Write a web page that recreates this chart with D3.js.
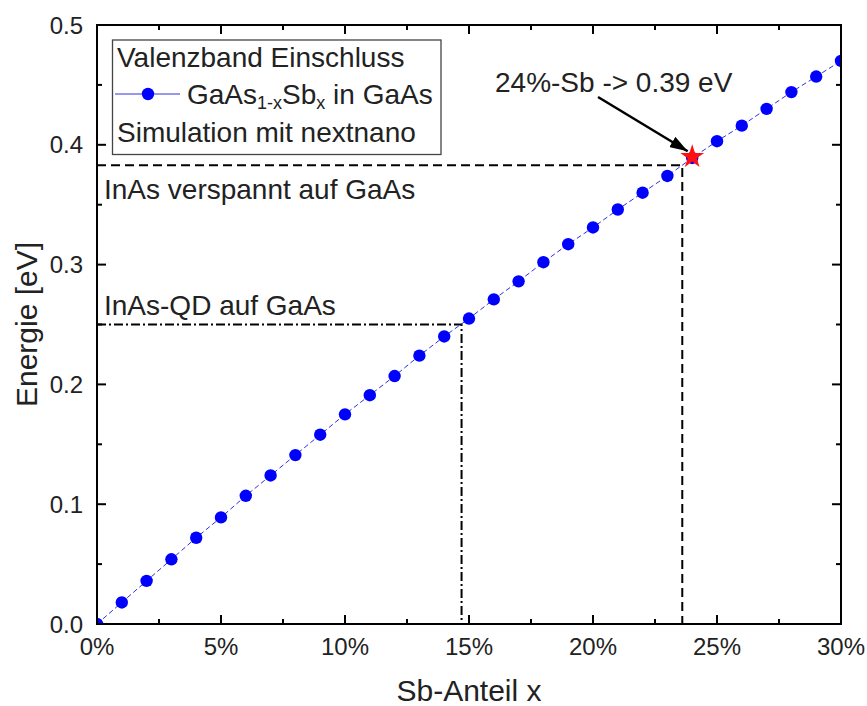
<!DOCTYPE html>
<html>
<head>
<meta charset="utf-8">
<script src="https://cdn.jsdelivr.net/npm/d3@7"></script>
<style>
  html, body { margin: 0; padding: 0; background: #fff; }
  svg { display: block; font-family: "Liberation Sans", Arial, sans-serif; }
</style>
</head>
<body>
<svg id="chart" width="867" height="706"></svg>
<script>
// Sb fraction (percent) and valence band confinement energy (eV)
const sbPercent = [0, 1, 2, 3, 4, 5, 6, 7, 8, 9, 10, 11, 12, 13, 14, 15,
                   16, 17, 18, 19, 20, 21, 22, 23, 24, 25, 26, 27, 28, 29, 30];
const energy = [0.000, 0.018, 0.036, 0.054, 0.072, 0.089, 0.107, 0.124, 0.141, 0.158,
                0.175, 0.191, 0.207, 0.224, 0.240, 0.255, 0.271, 0.286, 0.302, 0.317,
                0.331, 0.346, 0.360, 0.374, 0.389, 0.403, 0.416, 0.430, 0.444, 0.457, 0.470];

// Reference levels
const strainedInAs = { sb: 23.6, e: 0.383, label: "InAs verspannt auf GaAs" };
const quantumDot   = { sb: 14.7, e: 0.250, label: "InAs-QD auf GaAs" };
const highlight    = { sb: 24, e: 0.39, label: "24%-Sb -> 0.39 eV" };

// Axis ticks
const xTicks = [0, 5, 10, 15, 20, 25, 30];
const xMinor = [2.5, 7.5, 12.5, 17.5, 22.5, 27.5];
const yTicks = [0.0, 0.1, 0.2, 0.3, 0.4, 0.5];
const yMinor = [0.05, 0.15, 0.25, 0.35, 0.45];

const legendLines = ["Valenzband Einschluss", "GaAs", "Simulation mit nextnano"];

const svg = d3.select("#chart");
const pLeft = 97, pRight = 841, pTop = 25, pBottom = 624;

const x = d3.scaleLinear().domain([0, 30]).range([pLeft, pRight]);
const y = d3.scaleLinear().domain([0, 0.5]).range([pBottom, pTop]);

const major = 9, minor = 5;

const defs = svg.append("defs");
defs.append("clipPath").attr("id", "plotClip")
  .append("rect").attr("x", pLeft).attr("y", pTop)
  .attr("width", pRight - pLeft).attr("height", pBottom - pTop);

// Ticks on all four sides, pointing inward
const tickG = svg.append("g").attr("stroke", "#000").attr("stroke-width", 2);
function hTicks(vals, len) {
  vals.forEach(v => {
    tickG.append("line").attr("x1", x(v)).attr("x2", x(v)).attr("y1", pBottom).attr("y2", pBottom - len);
    tickG.append("line").attr("x1", x(v)).attr("x2", x(v)).attr("y1", pTop).attr("y2", pTop + len);
  });
}
function vTicks(vals, len) {
  vals.forEach(v => {
    tickG.append("line").attr("y1", y(v)).attr("y2", y(v)).attr("x1", pLeft).attr("x2", pLeft + len);
    tickG.append("line").attr("y1", y(v)).attr("y2", y(v)).attr("x1", pRight).attr("x2", pRight - len);
  });
}
hTicks(xTicks, major); hTicks(xMinor, minor);
vTicks(yTicks, major); vTicks(yMinor, minor);

// Tick labels
svg.append("g").selectAll("text").data(xTicks).join("text")
  .attr("x", d => x(d)).attr("y", 655)
  .attr("text-anchor", "middle").attr("font-size", 24).attr("fill", "#222")
  .text(d => d + "%");
svg.append("g").selectAll("text").data(yTicks).join("text")
  .attr("x", 83).attr("y", d => y(d) + 8.5)
  .attr("text-anchor", "end").attr("font-size", 24).attr("fill", "#222")
  .text(d => d3.format(".1f")(d));

// Axis titles
svg.append("text").attr("x", (pLeft + pRight) / 2).attr("y", 701)
  .attr("text-anchor", "middle").attr("font-size", 30).attr("fill", "#222")
  .text("Sb-Anteil x");
svg.append("text").attr("transform", `translate(37,${(pTop + pBottom) / 2}) rotate(-90)`)
  .attr("text-anchor", "middle").attr("font-size", 30).attr("fill", "#222")
  .text("Energie [eV]");

// Reference guide lines
svg.append("path")
  .attr("d", `M${x(0)},${y(strainedInAs.e)}H${x(strainedInAs.sb)}V${y(0)}`)
  .attr("fill", "none").attr("stroke", "#000").attr("stroke-width", 2)
  .attr("stroke-dasharray", "9,5");
svg.append("path")
  .attr("d", `M${x(0)},${y(quantumDot.e)}H${x(quantumDot.sb)}V${y(0)}`)
  .attr("fill", "none").attr("stroke", "#000").attr("stroke-width", 2)
  .attr("stroke-dasharray", "9,3,2,3");

svg.append("text").attr("x", 104).attr("y", 199).attr("font-size", 28)
  .attr("fill", "#222").text(strainedInAs.label);
svg.append("text").attr("x", 104).attr("y", 315).attr("font-size", 28)
  .attr("fill", "#222").text(quantumDot.label);

// Data series, clipped to the plot area
const dataG = svg.append("g").attr("clip-path", "url(#plotClip)");
const pts = sbPercent.map((s, i) => [s, energy[i]]);
dataG.append("path").datum(pts)
  .attr("d", d3.line().x(d => x(d[0])).y(d => y(d[1])))
  .attr("fill", "none").attr("stroke", "#3030e0").attr("stroke-width", 1)
  .attr("stroke-dasharray", "5,3");
dataG.append("g").selectAll("circle").data(pts).join("circle")
  .attr("cx", d => x(d[0])).attr("cy", d => y(d[1])).attr("r", 6.2)
  .attr("fill", "#0000ff");

// Highlighted point with star
dataG.append("path")
  .attr("d", d3.symbol().type(d3.symbolStar).size(175)())
  .attr("transform", `translate(${x(highlight.sb)},${y(highlight.e)})`)
  .attr("fill", "#ff1010");

// Arrow annotation
defs.append("marker")
  .attr("id", "arrowhead").attr("viewBox", "0 0 10 10")
  .attr("refX", 10).attr("refY", 5)
  .attr("markerWidth", 7.2).attr("markerHeight", 4.8)
  .attr("markerUnits", "strokeWidth")
  .attr("orient", "auto")
  .attr("preserveAspectRatio", "none")
  .append("path").attr("d", "M0,0L10,5L0,10z").attr("fill", "#000");
svg.append("line")
  .attr("x1", 598).attr("y1", 97).attr("x2", x(highlight.sb) - 4.5).attr("y2", y(highlight.e) - 5.5)
  .attr("stroke", "#000").attr("stroke-width", 2.5)
  .attr("marker-end", "url(#arrowhead)");
svg.append("text").attr("x", 495).attr("y", 92).attr("font-size", 28)
  .attr("fill", "#222").text(highlight.label);

// Legend
const lg = svg.append("g");
lg.append("rect").attr("x", 112.5).attr("y", 40).attr("width", 328.5).attr("height", 114.5)
  .attr("fill", "#fff").attr("stroke", "#444").attr("stroke-width", 1.3);
lg.append("text").attr("x", 117).attr("y", 67).attr("font-size", 28).attr("fill", "#222")
  .text(legendLines[0]);
lg.append("line").attr("x1", 115).attr("x2", 180).attr("y1", 94).attr("y2", 94)
  .attr("stroke", "#3030e0").attr("stroke-width", 1);
lg.append("circle").attr("cx", 148).attr("cy", 94).attr("r", 6.2).attr("fill", "#0000ff");
const t2 = lg.append("text").attr("x", 187).attr("y", 104).attr("font-size", 28).attr("fill", "#222");
t2.append("tspan").text("GaAs");
t2.append("tspan").attr("font-size", 18).attr("dy", 5).text("1-x");
t2.append("tspan").attr("dy", -5).text("Sb");
t2.append("tspan").attr("font-size", 18).attr("dy", 5).text("x");
t2.append("tspan").attr("dy", -5).text(" in GaAs");
lg.append("text").attr("x", 117).attr("y", 142).attr("font-size", 28).attr("fill", "#222")
  .text(legendLines[2]);

// Frame
svg.append("rect").attr("x", pLeft).attr("y", pTop).attr("width", pRight - pLeft).attr("height", pBottom - pTop)
  .attr("fill", "none").attr("stroke", "#000").attr("stroke-width", 2);
</script>
</body>
</html>
